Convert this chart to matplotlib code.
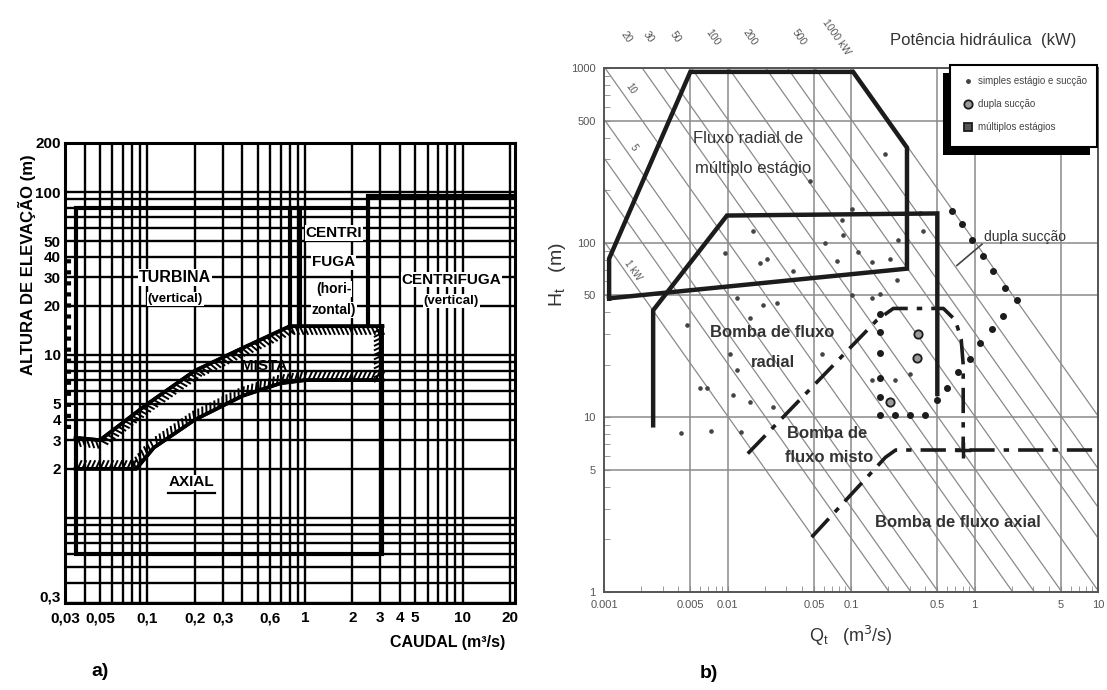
import matplotlib
matplotlib.use("Agg")
import matplotlib.pyplot as plt
import matplotlib.patheffects as pe
import matplotlib.transforms as mtransforms
from matplotlib.patches import Rectangle
from matplotlib.ticker import LogLocator, NullFormatter, NullLocator
import numpy as np

plt.rcParams["font.family"] = ["Liberation Sans", "DejaVu Sans"]

W, H = 1107, 690

# ---------------------------------------------------------------------------
# a) campo de aplicacao dos tipos de bomba (Q em m3/s, H em m)
# ---------------------------------------------------------------------------
a_xticks = [0.03, 0.05, 0.1, 0.2, 0.3, 0.6, 1, 2, 3, 4, 5, 10, 20]
a_xticklabels = ["0,03", "0,05", "0,1", "0,2", "0,3", "0,6", "1", "2", "3", "4", "5", "10", "20"]
a_yticks = [0.3, 2, 3, 4, 5, 10, 20, 30, 40, 50, 100, 200]
a_yticklabels = ["0,3", "2", "3", "4", "5", "10", "20", "30", "40", "50", "100", "200"]

# contornos das zonas
outer_q = [3.1, 3.1, 0.035, 0.035, 2.5]
outer_h = [7.0, 0.6, 0.6, 80, 80]
cv_q = [2.5, 2.5, 21.5]            # centrifuga vertical
cv_h = [15, 95, 95]
turb_right_q = [0.8, 0.8]
turb_right_h = [80, 15]
ch_left_q = [0.93, 0.93]          # centrifuga horizontal
ch_left_h = [80, 15]
mista_top_q = [0.035, 0.05, 0.1, 0.2, 0.4, 0.8, 3.1]
mista_top_h = [3.1, 3.0, 5.0, 8.0, 11.0, 15.0, 15.0]
mista_bot_q = [0.035, 0.085, 0.11, 0.2, 0.4, 0.7, 1.0, 3.1]
mista_bot_h = [2.0, 2.0, 2.7, 4.0, 5.6, 6.7, 7.0, 7.0]
mista_right_q = [3.1, 3.1]
mista_right_h = [15, 7.0]

# ---------------------------------------------------------------------------
# b) diagrama de selecao (Q_t em m3/s, H_t em m)
# ---------------------------------------------------------------------------
b_xticks = [0.001, 0.005, 0.01, 0.05, 0.1, 0.5, 1, 5, 10]
b_xticklabels = ["0.001", "0.005", "0.01", "0.05", "0.1", "0.5", "1", "5", "10"]
b_yticks = [1, 5, 10, 50, 100, 500, 1000]
b_yticklabels = ["1", "5", "10", "50", "100", "500", "1000"]

power_kw = [1, 2, 3, 5, 10, 20, 30, 50, 100, 200, 300, 500, 1000]
top_label_kw = [20, 30, 50, 100, 200, 500, 1000]
top_label_txt = ["20", "30", "50", "100", "200", "500", "1000 kW"]
in_label_txt = ["10", "5", "1 kW"]
in_label_q = [0.00165, 0.00172, 0.00172]
in_label_h = [760, 349, 69]

multi_q = [0.0011, 0.0011, 0.005, 0.104, 0.284, 0.284, 0.0011]
multi_h = [48, 81, 950, 950, 350, 71, 48]
radial_q = [0.0025, 0.0025, 0.0099, 0.5, 0.5]
radial_h = [9.0, 41, 143, 147, 13.6]
mixed_q = [0.0146, 0.162, 0.22, 0.56, 0.70, 0.78, 0.81, 0.81]
mixed_h = [6.2, 36, 42, 42, 36, 28, 20, 6.5]
axial_q = [0.048, 0.19, 0.23, 10]
axial_h = [2.06, 5.9, 6.5, 6.5]

dot_outer_q = [0.66, 0.79, 0.955, 1.17, 1.41, 1.77, 2.21]
dot_outer_h = [152, 128, 103, 84, 69, 55, 47]
dot_inner_q = [1.70, 1.39, 1.11, 0.92, 0.73, 0.60, 0.50, 0.40, 0.30, 0.227,
               0.172, 0.172, 0.172, 0.172, 0.172, 0.172]
dot_inner_h = [38, 32, 26.5, 21.7, 18.1, 14.8, 12.5, 10.3, 10.3, 10.3,
               10.3, 13.0, 16.9, 23.2, 30.6, 39.3]

pts_q = [0.102, 0.0845, 0.0616, 0.0861, 0.077, 0.114, 0.148, 0.207, 0.240, 0.362,
         0.383, 0.236, 0.172, 0.102, 0.148, 0.058, 0.30, 0.148, 0.227, 0.0161,
         0.0209, 0.0183, 0.0339, 0.0095, 0.0047, 0.0119, 0.0194, 0.0252, 0.0152, 0.0105,
         0.0119, 0.0068, 0.0060, 0.0111, 0.0152, 0.0233, 0.0042, 0.0073, 0.0129, 0.188,
         0.0466]
pts_h = [156, 134, 100, 110, 79, 88, 77, 81, 103, 148,
         117, 61, 51, 50, 48, 23, 17.8, 16.3, 16.3, 117,
         81, 76, 69, 87, 34, 48, 44, 45, 37, 23,
         18.6, 14.7, 14.7, 13.4, 12.2, 11.4, 8.1, 8.4, 8.2, 323,
         226]
dup_q = [0.349, 0.342, 0.207]
dup_h = [30, 22, 12.2]

legend_txt = ["simples estágio e sucção", "dupla sucção", "múltiplos estágios"]


def px_rect(left, top, right, bottom):
    return [left / W, 1 - bottom / H, (right - left) / W, (bottom - top) / H]


fig = plt.figure(figsize=(W / 100, H / 100), dpi=100)

# ---------------------------------------------------------------------------
# panel a
# ---------------------------------------------------------------------------
axa = fig.add_axes(px_rect(65, 143, 515, 603))
axa.set_xscale("log")
axa.set_yscale("log")
axa.set_xlim(0.03, 21.5)
axa.set_ylim(0.3, 200)

grid_vals = [m * 10.0 ** e for e in range(-2, 3) for m in range(1, 10)]
for v in grid_vals:
    if 0.03 <= v <= 21.5:
        axa.axvline(v, color="k", lw=1.7, zorder=1)
    if 0.3 <= v <= 200:
        axa.axhline(v, color="k", lw=1.7, zorder=1)

axa.set_xticks(a_xticks)
axa.set_xticklabels(a_xticklabels)
axa.set_yticks(a_yticks)
axa.set_yticklabels(a_yticklabels)
axa.xaxis.set_minor_locator(NullLocator())
axa.yaxis.set_minor_locator(NullLocator())
axa.tick_params(axis="x", length=0, pad=6, labelsize=11)
axa.tick_params(axis="y", length=0, pad=3, labelsize=11)
for lab in axa.get_xticklabels() + axa.get_yticklabels():
    lab.set_fontweight("bold")
# lift the "0,3" label a little so it clears "0,03"
lift = mtransforms.ScaledTranslation(0, 5 / 72, fig.dpi_scale_trans)
ylab0 = axa.get_yticklabels()[0]
ylab0.set_transform(ylab0.get_transform() + lift)
for sp in axa.spines.values():
    sp.set_linewidth(2.2)

thick = dict(color="k", lw=3.0, zorder=4, solid_joinstyle="miter")
axa.plot(outer_q, outer_h, **thick)
axa.plot(cv_q, cv_h, **thick)
axa.plot(turb_right_q, turb_right_h, **thick)
axa.plot(ch_left_q, ch_left_h, **thick)
axa.plot([0.032, 0.032], [3.5, 40], color="k", lw=3, ls=":", zorder=4)

for q, h, ang in [(mista_top_q, mista_top_h, -65),
                  (mista_bot_q, mista_bot_h, 65),
                  (mista_right_q, mista_right_h, -65)]:
    axa.plot(q, h, color="k", lw=2.6, zorder=5,
             path_effects=[pe.Normal(),
                           pe.withTickedStroke(angle=ang, spacing=3.2, length=1.9,
                                               linewidth=1.4)])

box = dict(facecolor="white", edgecolor="none", pad=0.6)
txt = dict(ha="center", va="center", fontweight="bold", zorder=6)
axa.text(0.15, 30, "TURBINA", fontsize=11.5, bbox=box, **txt)
axa.text(0.15, 22, "(vertical)", fontsize=9.5, bbox=box, **txt)
axa.text(1.52, 56, "CENTRI", fontsize=11, bbox=box, **txt)
axa.text(1.52, 37, "FUGA", fontsize=11, bbox=box, **txt)
axa.text(1.52, 25.5, "(hori-", fontsize=10, bbox=box, **txt)
axa.text(1.52, 18.8, "zontal)", fontsize=10, bbox=box, **txt)
axa.text(8.5, 29, "CENTRIFUGA", fontsize=11, bbox=box, **txt)
axa.text(8.5, 21.5, "(vertical)", fontsize=9.5, bbox=box, **txt)
axa.text(0.55, 8.6, "MISTA", fontsize=11, **txt)
axa.text(0.19, 1.65, "AXIAL", fontsize=11, bbox=box, **txt)
axa.plot([0.135, 0.27], [1.42, 1.42], color="k", lw=1.6, zorder=6)

fig.text(27 / W, 1 - 265 / H, "ALTURA DE ELEVAÇÃO (m)", rotation=90,
         ha="center", va="center", fontsize=12, fontweight="bold")
fig.text(505 / W, 1 - 643 / H, "CAUDAL (m³/s)", ha="right", va="center",
         fontsize=11.5, fontweight="bold")
fig.text(100 / W, 1 - 672 / H, "a)", ha="center", va="center",
         fontsize=14, fontweight="bold")

# ---------------------------------------------------------------------------
# panel b
# ---------------------------------------------------------------------------
GRID = "#8a8a8a"
DARK = "#1c1c1c"
TXT = "#333333"

axb = fig.add_axes(px_rect(604, 68, 1098, 592))
axb.set_xscale("log")
axb.set_yscale("log")
axb.set_xlim(0.001, 10)
axb.set_ylim(1, 1000)

for v in b_xticks[1:]:
    axb.axvline(v, color=GRID, lw=1.1, zorder=1)
for v in b_yticks[1:]:
    axb.axhline(v, color=GRID, lw=1.1, zorder=1)

q_line = np.array([1e-4, 20.0])
for p in power_kw:
    axb.plot(q_line, p / (9.81 * q_line), color=GRID, lw=0.9, zorder=1)

for p, t in zip(top_label_kw, top_label_txt):
    hl = 1500.0
    axb.text(p / (9.81 * hl) * 1.12, hl, t, rotation=-55, ha="center", va="center",
             fontsize=7.5, color="#555555", clip_on=False, rotation_mode="anchor")
for q, h, t in zip(in_label_q, in_label_h, in_label_txt):
    axb.text(q, h, t, rotation=-55, ha="center", va="center",
             fontsize=7, color="#555555", rotation_mode="anchor")

axb.set_xticks(b_xticks)
axb.set_xticklabels(b_xticklabels)
axb.set_yticks(b_yticks)
axb.set_yticklabels(b_yticklabels)
axb.xaxis.set_minor_locator(LogLocator(base=10, subs=range(2, 10)))
axb.yaxis.set_minor_locator(LogLocator(base=10, subs=range(2, 10)))
axb.xaxis.set_minor_formatter(NullFormatter())
axb.yaxis.set_minor_formatter(NullFormatter())
axb.tick_params(which="both", direction="in", length=4, color=GRID,
                labelsize=8, labelcolor="#555555", pad=6)
for sp in axb.spines.values():
    sp.set_color("#555555")
    sp.set_linewidth(1.4)

axb.plot(multi_q, multi_h, color=DARK, lw=3.2, zorder=4, solid_joinstyle="miter")
axb.plot(radial_q, radial_h, color=DARK, lw=3.2, zorder=4, solid_joinstyle="miter")
dashdot = (0, (7, 2.5, 1.5, 2.5))
axb.plot(mixed_q, mixed_h, color=DARK, lw=2.6, ls=dashdot, zorder=4)
axb.plot(axial_q, axial_h, color=DARK, lw=2.6, ls=dashdot, zorder=4)
axb.plot([0.81], [6.5], marker="+", ms=11, mew=2.5, color=DARK, zorder=5)

axb.plot(dot_outer_q, dot_outer_h, "o", ms=4, color=DARK, zorder=4)
axb.plot(dot_inner_q, dot_inner_h, "o", ms=4, color=DARK, zorder=4)
axb.plot(pts_q, pts_h, "o", ms=2.3, color="#444444", zorder=3)
axb.plot(dup_q, dup_h, "o", ms=6, mfc="#9a9a9a", mec=DARK, mew=1.3, zorder=4)

axb.plot([1.15, 0.72], [98, 74], color="#444444", lw=1.2, zorder=4)
axb.text(1.2, 108, "dupla sucção", fontsize=10, color=TXT, ha="left", va="center")

tb = dict(ha="center", va="center", fontsize=12, color=TXT, zorder=6)
axb.text(0.0147, 393, "Fluxo radial de", **tb)
axb.text(0.016, 267, "múltiplo estágio", **tb)
axb.text(0.0229, 30.6, "Bomba de fluxo", fontweight="bold", **tb)
axb.text(0.0233, 20.6, "radial", fontweight="bold", **tb)
axb.text(0.064, 8.1, "Bomba de", fontweight="bold", **tb)
axb.text(0.066, 5.9, "fluxo misto", fontweight="bold", **tb)
axb.text(0.73, 2.5, "Bomba de fluxo axial", fontweight="bold", **tb)

fig.text(983 / W, 1 - 40 / H, "Potência hidráulica  (kW)", ha="center", va="center",
         fontsize=12, color=TXT)
fig.text(557 / W, 1 - 275 / H, r"H$_\mathregular{t}$   (m)", rotation=90,
         ha="center", va="center", fontsize=14, color=TXT)
fig.text(851 / W, 1 - 636 / H, r"Q$_\mathregular{t}$   (m$^3$/s)", ha="center",
         va="center", fontsize=13, color=TXT)
fig.text(709 / W, 1 - 673 / H, "b)", ha="center", va="center",
         fontsize=14, fontweight="bold")

# legenda com sombra
fig.add_artist(Rectangle((943 / W, 1 - 155 / H), 147 / W, 82 / H,
                         transform=fig.transFigure, facecolor="black",
                         edgecolor="none", zorder=7))
fig.add_artist(Rectangle((950 / W, 1 - 147 / H), 147 / W, 82 / H,
                         transform=fig.transFigure, facecolor="white",
                         edgecolor="black", lw=1.5, zorder=8))
leg_marks = [dict(marker="o", ms=2.5, mfc="#444444", mec="#444444"),
             dict(marker="o", ms=6, mfc="#9a9a9a", mec=DARK, mew=1.3),
             dict(marker="s", ms=6, mfc="#555555", mec=DARK, mew=1.3)]
for i, (t, mk) in enumerate(zip(legend_txt, leg_marks)):
    yy = 1 - (81 + 23 * i) / H
    fig.add_artist(plt.Line2D([968 / W], [yy], transform=fig.transFigure,
                              ls="none", zorder=9, **mk))
    fig.text(978 / W, yy, t, ha="left", va="center", fontsize=7,
             color="#444444", zorder=9)

fig.savefig("out.png", dpi=100)
